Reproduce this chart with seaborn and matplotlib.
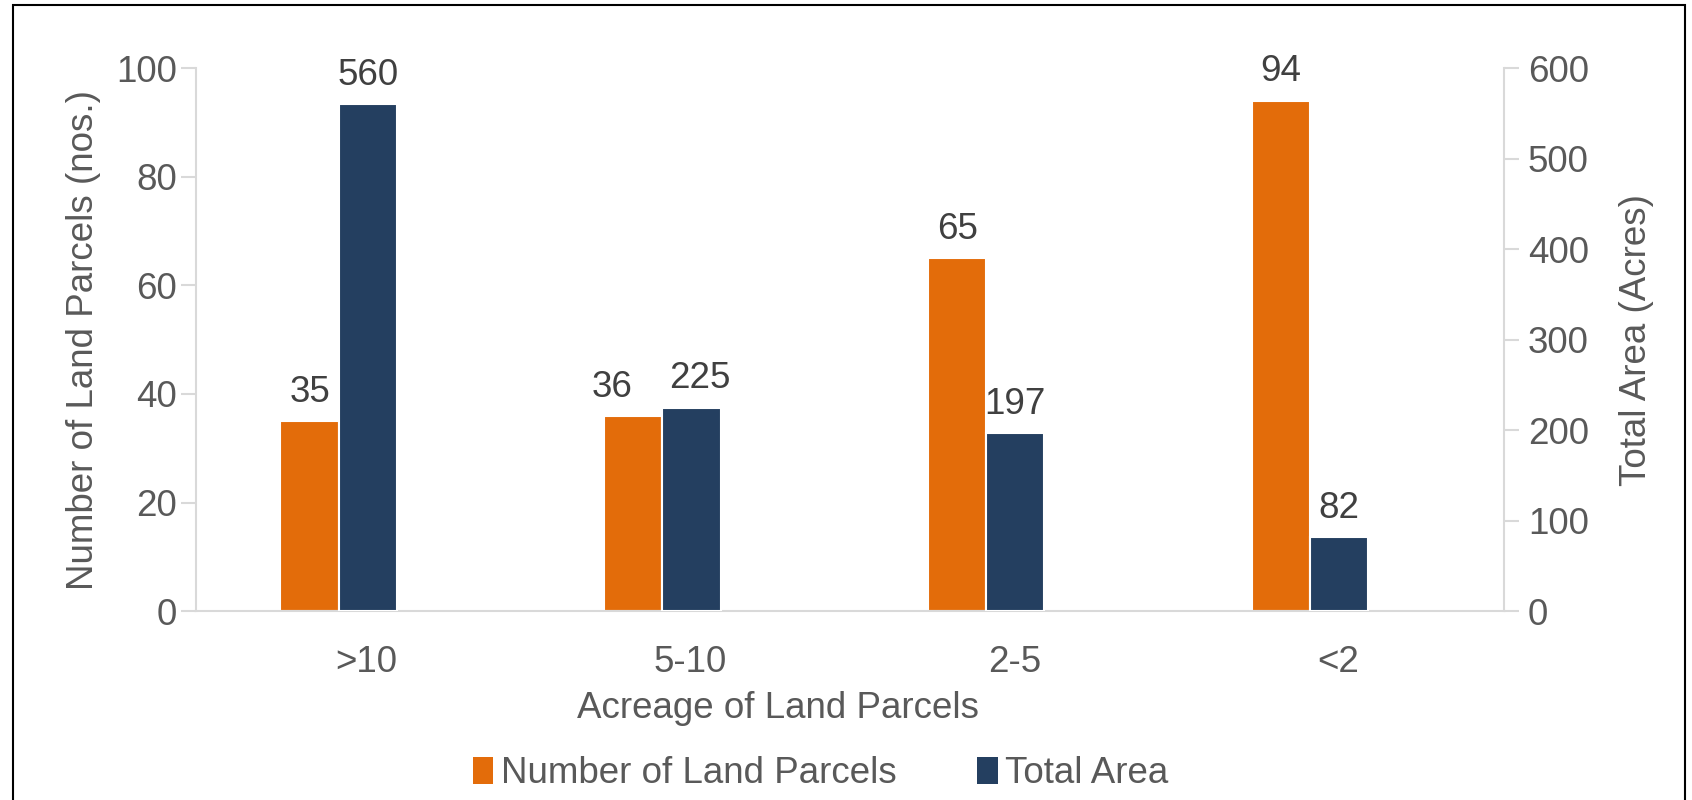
import numpy as np
import pandas as pd
import matplotlib.pyplot as plt
from matplotlib.patches import Patch, Rectangle
from matplotlib.transforms import ScaledTranslation
import seaborn as sns

# data
categories = [">10", "5-10", "2-5", "<2"]
parcels = [35, 36, 65, 94]
area = [560, 225, 197, 82]
series = ["Number of Land Parcels", "Total Area"]
colors = ["#E36C0A", "#243F60"]

df = pd.DataFrame({
    "category": categories * 2,
    "series": [series[0]] * 4 + [series[1]] * 4,
    "value": parcels + area,
})

sns.set_theme(style="white")
plt.rcParams["font.family"] = ["Liberation Sans", "DejaVu Sans"]
txt = "#595959"
grid = "#D9D9D9"
fs = 26.5

fig = plt.figure(figsize=(16.92, 8), dpi=100)
ax1 = fig.add_axes([0.116, 0.236, 0.773, 0.679])
ax2 = ax1.twinx()

# the two labels over 5-10 are pushed apart in the original (points)
nudge = {(series[0], 1): -15, (series[1], 1): 6}

for ax, s in [(ax1, series[0]), (ax2, series[1])]:
    sns.barplot(data=df[df.series == s], x="category", y="value", hue="series",
                hue_order=series, order=categories, palette=colors, dodge=True,
                saturation=1, width=0.36, edgecolor="white", linewidth=1.5,
                legend=False, ax=ax)
    for c in ax.containers:
        labs = ["" if np.isnan(v) else f"{v:.0f}" for v in c.datavalues]
        anns = ax.bar_label(c, labels=labs, padding=8, fontsize=fs, color="#404040")
        for i, a in enumerate(anns):
            if (s, i) in nudge and labs[i]:
                a.xyann = (nudge[(s, i)], 8)

ax1.set_xlim(-0.44, 3.60)
ax1.set_ylim(0, 100)
ax2.set_ylim(0, 600)
ax1.set_yticks(range(0, 101, 20))
ax2.set_yticks(range(0, 601, 100))

for ax in (ax1, ax2):
    for sp in ax.spines.values():
        sp.set_visible(False)
    ax.tick_params(axis="y", labelsize=fs, labelcolor=txt, color=grid,
                   length=11, width=1.5, direction="out", pad=3)
ax1.spines["left"].set_visible(True)
ax1.spines["bottom"].set_visible(True)
ax2.spines["right"].set_visible(True)
for sp in (ax1.spines["left"], ax1.spines["bottom"], ax2.spines["right"]):
    sp.set_color(grid)
    sp.set_linewidth(1.5)
ax1.tick_params(axis="y", left=True)
ax2.tick_params(axis="y", right=True, pad=6)
ax1.tick_params(axis="x", labelsize=fs, labelcolor=txt, length=0, pad=24)
# category labels sit a little right of the bar pairs in the original
for lab in ax1.get_xticklabels():
    lab.set_transform(lab.get_transform() + ScaledTranslation(0.28, 0, fig.dpi_scale_trans))

ax1.set_xlabel("Acreage of Land Parcels", fontsize=fs, color=txt, va="center")
ax1.xaxis.set_label_coords(0.445, -0.18)
ax1.set_ylabel("Number of Land Parcels (nos.)", fontsize=fs, color=txt, va="center")
ax1.yaxis.set_label_coords(-0.086, 0.5)
ax2.set_ylabel("Total Area (Acres)", fontsize=fs, color=txt, va="center")
ax2.yaxis.set_label_coords(1.101, 0.5)

handles = [Patch(facecolor=c, edgecolor="none") for c in colors]
fig.legend(handles, series, loc="center", bbox_to_anchor=(0.485, 0.033), ncol=2,
           frameon=False, fontsize=fs, labelcolor=txt, handlelength=0.55,
           handleheight=0.75, handletextpad=0.2, columnspacing=2.2)

fig.add_artist(Rectangle((0.0077, -0.05), 0.988, 1.044, transform=fig.transFigure,
                         fill=False, edgecolor="black", linewidth=1.5))

fig.savefig("out.png", dpi=100)
